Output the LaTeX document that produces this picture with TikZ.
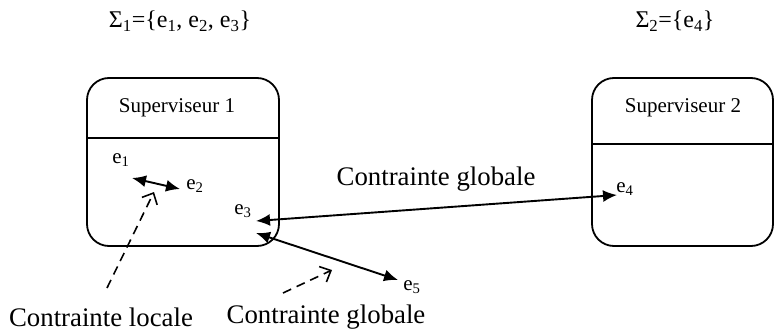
\documentclass[tikz,border=0pt]{standalone}
\usepackage{fontspec}
\setmainfont{Liberation Serif}
\usetikzlibrary{arrows.meta}
\begin{document}
\begin{tikzpicture}[x=1pt,y=-1pt,
  sup/.style={draw,line width=1.8pt,rounded corners=22pt,minimum width=#1,minimum height=168pt,inner sep=0pt},
  lbl/.style={font=\fontsize{21}{25}\selectfont,inner sep=1pt},
  big/.style={font=\fontsize{26.8}{32}\selectfont,inner sep=0pt},
  sig/.style={font=\fontsize{24}{29}\selectfont,inner sep=0pt},
  ttl/.style={font=\fontsize{21}{25}\selectfont,inner sep=0pt},
  dbl/.style={line width=1.9pt,{Latex[length=14pt,width=12pt]}-{Latex[length=14pt,width=12pt]}},
  dsh/.style={line width=1.6pt,dash pattern=on 9pt off 6pt,-{Straight Barb[length=9pt,width=17pt,line width=1.6pt]}}]
\useasboundingbox (0,0) rectangle (775,331);
% boxes
\node[sup=192pt] (b1) at (183,162) {};
\node[sup=181pt] (b2) at (682.5,162) {};
\coordinate (d1l) at (87,138); \coordinate (d1r) at (279,138);
\coordinate (d2l) at (592,144); \coordinate (d2r) at (773,144);
\draw[line width=1.8pt] (d1l) -- (d1r);
\draw[line width=1.8pt] (d2l) -- (d2r);
\node[ttl] (s1) at (177,108) {Superviseur 1};
\node[ttl] (s2) at (683,108) {Superviseur 2};
% sigma
\node[sig] (g1) at (180,21) {Σ\textsubscript{1}=\{e\textsubscript{1}, e\textsubscript{2}, e\textsubscript{3}\}};
\node[sig] (g2) at (675,21) {Σ\textsubscript{2}=\{e\textsubscript{4}\}};
% events
\node[lbl] (e1) at (121,160) {e\textsubscript{1}};
\node[lbl] (e2) at (195,186) {e\textsubscript{2}};
\node[lbl] (e3) at (243,211) {e\textsubscript{3}};
\node[lbl] (e4) at (625,189) {e\textsubscript{4}};
\node[lbl] (e5) at (412,287) {e\textsubscript{5}};
\coordinate (a1) at (132,178); \coordinate (a2) at (180,189);
\coordinate (a3) at (256,221); \coordinate (a4) at (617,195);
\coordinate (a5) at (256,233); \coordinate (a6) at (398,280);
\draw[dbl] (a1) -- (a2);
\draw[dbl] (a3) -- (a4);
\draw[dbl] (a5) -- (a6);
% dashed pointers
\coordinate (p1) at (107,288); \coordinate (q1) at (154,192);
\coordinate (p2) at (283,293); \coordinate (q2) at (332,270);
\draw[dsh] (p1) -- (q1);
\draw[dsh] (p2) -- (q2);
% labels
\node[big] (cl) at (101,317) {Contrainte locale};
\node[big] (cg) at (326,317) {Contrainte globale};
\node[big] (cm) at (436,179) {Contrainte globale};
\end{tikzpicture}
\end{document}
